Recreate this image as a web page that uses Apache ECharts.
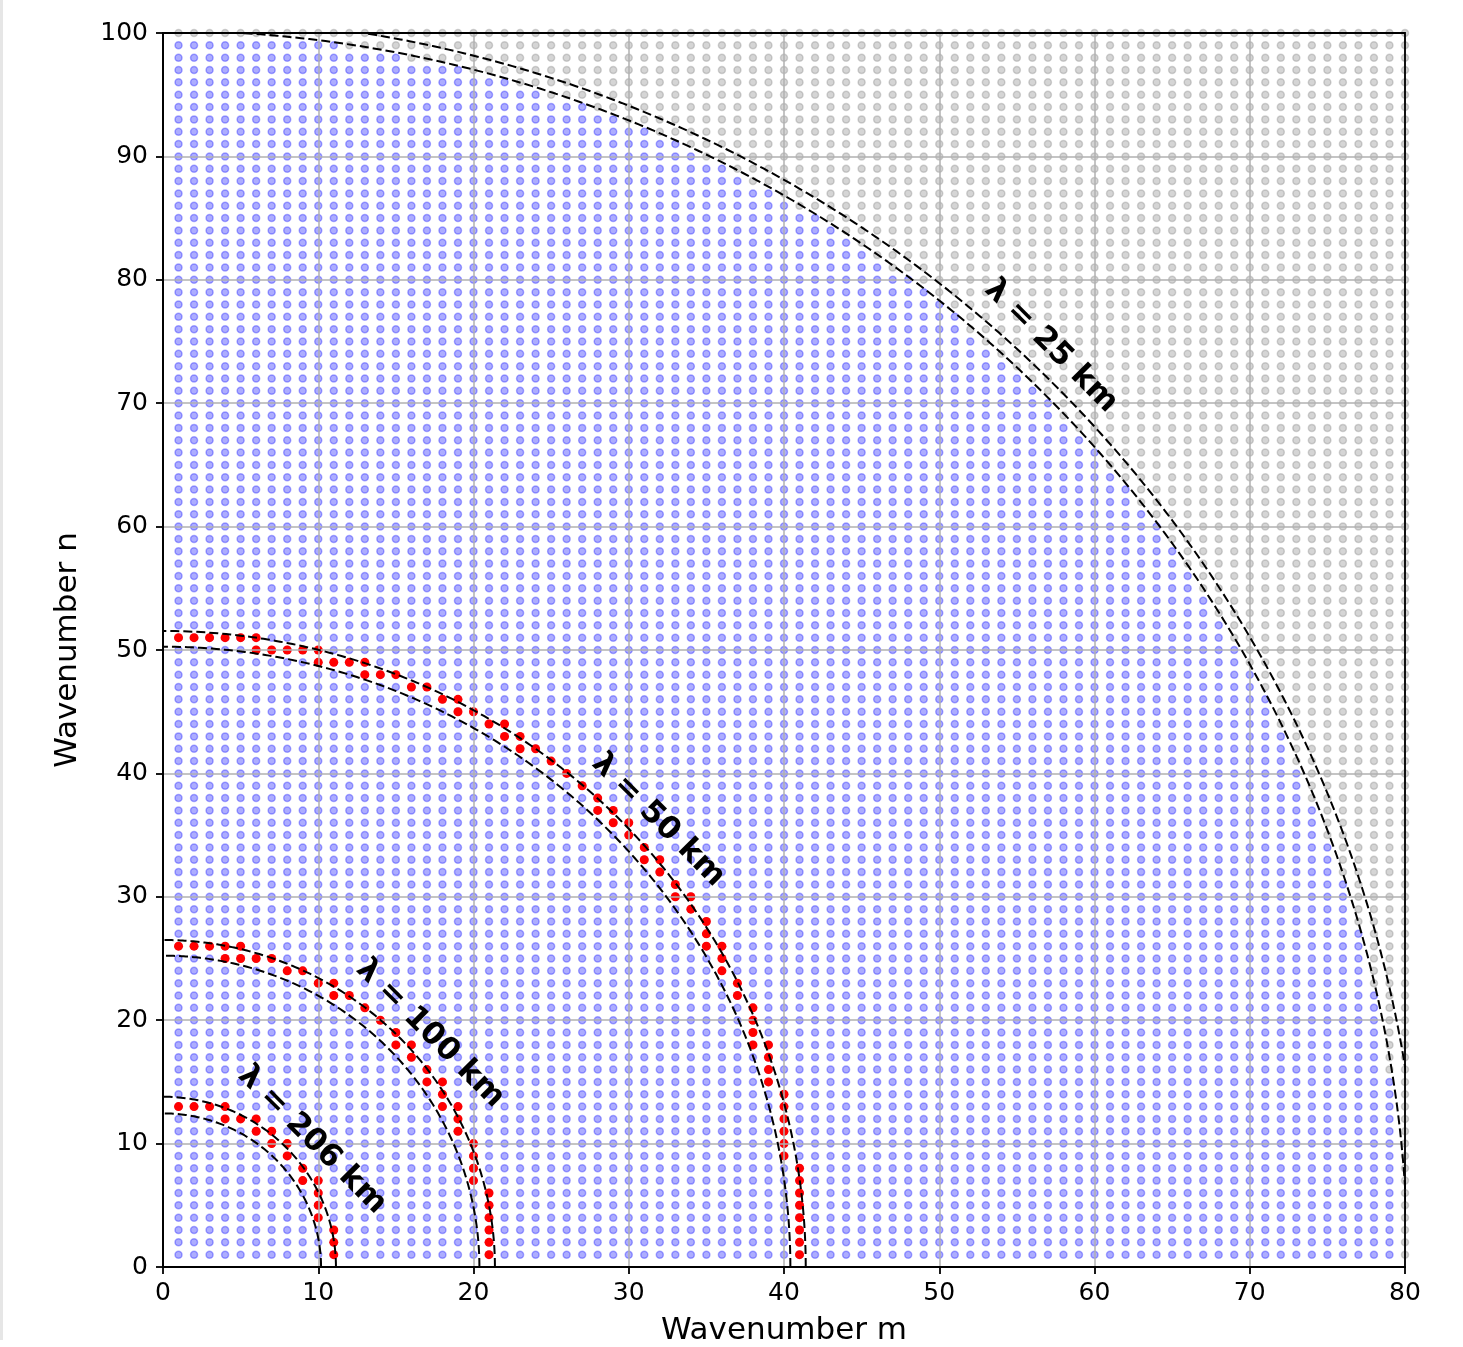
<!DOCTYPE html>
<html><head><meta charset="utf-8">
<script src="https://cdn.jsdelivr.net/npm/echarts@6/dist/echarts.min.js"></script>
<style>html,body{margin:0;padding:0;background:#fff}#c{width:1463px;height:1347px}</style>
</head><body><div id="c"></div><script>
// ---- data ----
const xTicks = [0,10,20,30,40,50,60,70,80];
const yTicks = [0,10,20,30,40,50,60,70,80,90,100];
const maxM = 80;   // highest wavenumber m drawn
const maxN = 100;  // highest wavenumber n drawn
// for each n = 1..100, the largest m that is still blue (the rest of the row is grey)
const blueEdge = [
 79,79,79,79,79,79,79,79,79,79,79,79,79,79,79,
 78,78,78,78,78,78,78,
 77,77,77,77,77,
 76,76,76,76,
 75,75,75,
 74,74,74,
 73,73,73,
 72,72,72,
 71,71,71,
 70,70,69,69,68,68,67,67,66,66,65,65,64,64,
 63,62,62,61,60,60,59,58,57,57,56,55,54,53,52,51,51,50,49,48,
 46,45,44,43,42,40,39,37,36,34,33,31,29,27,24,22,19,15,11,0];
// red bands: [n, first m, last m]
const band206 = [[13,1,4],[12,4,6],[11,6,7],[10,7,8],[9,8,8],[8,9,9],[7,9,10],[6,10,10],[5,10,10],[4,10,10],[3,11,11],[2,11,11],[1,11,11]];
const band100 = [[26,1,5],[25,4,7],[24,8,9],[23,10,11],[22,11,12],[21,13,13],[20,14,14],[19,15,15],[18,15,16],[17,16,16],[16,17,17],[15,17,18],[14,18,18],[13,18,19],[12,19,19],[11,19,19],[10,20,20],[9,20,20],[8,20,20],[7,20,20],[6,21,21],[5,21,21],[4,21,21],[3,21,21],[2,21,21],[1,21,21]];
const band50 = [[51,1,6],[50,6,10],[49,10,13],[48,13,15],[47,16,17],[46,18,19],[45,19,20],[44,21,22],[43,22,23],[42,23,24],[41,25,25],[40,26,26],[39,27,27],[38,28,28],[37,28,29],[36,29,30],[35,30,30],[34,31,31],[33,31,32],[32,32,32],[31,33,33],[30,33,34],[29,34,34],[28,35,35],[27,35,35],[26,35,36],[25,36,36],[24,36,36],[23,37,37],[22,37,37],[21,38,38],[20,38,38],[19,38,38],[18,38,39],[17,39,39],[16,39,39],[15,39,39],[14,40,40],[13,40,40],[12,40,40],[11,40,40],[10,40,40],[9,40,40],[8,41,41],[7,41,41],[6,41,41],[5,41,41],[4,41,41],[3,41,41],[2,41,41],[1,41,41]];
// dashed ellipses (semi-axes in m and n)
const lambdaNames = ['λ = 25 km','λ = 50 km','λ = 100 km','λ = 206 km'];
const innerA = [80.17, 40.41, 20.38, 10.18];
const innerB = [100.2, 50.27, 25.23, 12.45];
const outerA = [81.05, 41.40, 21.38, 11.14];
const outerB = [101.3, 51.54, 26.50, 13.80];
const labelM = [57.2, 31.9, 17.2, 9.6];
const labelN = [74.6, 36.2, 18.9, 10.3];

// ---- build series data ----
const bluePts = [], grayPts = [];
for (let n = 1; n <= maxN; n++) {
  for (let m = 1; m <= maxM; m++) {
    (m <= blueEdge[n-1] ? bluePts : grayPts).push([m, n]);
  }
}
const redPts = [];
[band206, band100, band50].forEach(b => b.forEach(([n, a, z]) => { for (let m = a; m <= z; m++) redPts.push([m, n]); }));

function ellipse(a, b) {
  const pts = [];
  const N = 240;
  for (let i = 0; i <= N; i++) {
    const t = Math.PI / 2 * i / N;
    pts.push([a * Math.cos(t), b * Math.sin(t)]);
  }
  return pts;
}
const FONT = 'DejaVu Sans';
const lineSeries = [];
for (let i = 0; i < lambdaNames.length; i++) {
  [[innerA[i], innerB[i]], [outerA[i], outerB[i]]].forEach(([a, b]) => {
    lineSeries.push({
      type: 'line', data: ellipse(a, b), showSymbol: false, symbol: 'none', smooth: false,
      lineStyle: { color: '#000', width: 2, type: [9, 4] }, clip: true, z: 5, silent: true
    });
  });
}

const chart = echarts.init(document.getElementById('c'), null, { renderer: 'canvas' });
chart.setOption({
  animation: false,
  backgroundColor: '#fff',
  graphic: [{ type: 'rect', left: 0, top: 0, shape: { width: 3, height: 1340 }, style: { fill: '#e6e6e6' }, silent: true }],
  grid: { left: 163, right: 58, top: 33, bottom: 80, containLabel: false, outerBoundsMode: 'none',
          show: true, borderColor: '#000', borderWidth: 1.8, backgroundColor: 'transparent', z: 10 },
  xAxis: {
    type: 'value', min: 0, max: 80, interval: 10, z: 3,
    name: 'Wavenumber m', nameLocation: 'middle', nameGap: 48,
    nameTextStyle: { fontFamily: FONT, fontSize: 31, color: '#000' },
    axisLine: { show: true, onZero: false, lineStyle: { color: '#000', width: 1.8 } },
    axisTick: { show: true, inside: false, length: 7, lineStyle: { color: '#000', width: 1.8 } },
    axisLabel: { fontFamily: FONT, fontSize: 25, color: '#000', margin: 14, formatter: v => xTicks.includes(v) ? String(v) : '' },
    splitLine: { show: true, lineStyle: { color: '#b0b0b0', width: 1.5 } }
  },
  yAxis: {
    type: 'value', min: 0, max: 100, interval: 10, z: 3,
    name: 'Wavenumber n', nameLocation: 'middle', nameGap: 80, nameRotate: 90,
    nameTextStyle: { fontFamily: FONT, fontSize: 31, color: '#000' },
    axisLine: { show: true, onZero: false, lineStyle: { color: '#000', width: 1.8 } },
    axisTick: { show: true, inside: false, length: 7, lineStyle: { color: '#000', width: 1.8 } },
    axisLabel: { fontFamily: FONT, fontSize: 25, color: '#000', margin: 15, formatter: v => yTicks.includes(v) ? String(v) : '' },
    splitLine: { show: true, lineStyle: { color: '#b0b0b0', width: 1.5 } }
  },
  series: [
    { type: 'scatter', data: grayPts, symbolSize: 7, clip: true, silent: true, z: 1,
      itemStyle: { opacity: 1, color: 'rgba(128,128,128,0.33)', borderColor: 'rgba(128,128,128,0.33)', borderWidth: 1.5 } },
    { type: 'scatter', data: bluePts, symbolSize: 7, clip: true, silent: true, z: 1,
      itemStyle: { opacity: 1, color: 'rgba(0,0,255,0.32)', borderColor: 'rgba(0,0,255,0.32)', borderWidth: 1.5 } },
    { type: 'scatter', data: redPts, symbolSize: 9, clip: true, silent: true, z: 2,
      itemStyle: { opacity: 1, color: '#ff0000' } },
    ...lineSeries,
    { type: 'scatter', silent: true, z: 8, symbolSize: 0,
      data: lambdaNames.map((t, i) => ({ value: [labelM[i], labelN[i]], name: t })),
      itemStyle: { opacity: 1 },
      label: { show: true, position: 'inside', formatter: p => p.name, rotate: -45,
               fontFamily: FONT, fontWeight: 'bold', fontSize: 31, color: '#000' } }
  ]
});
</script></body></html>
